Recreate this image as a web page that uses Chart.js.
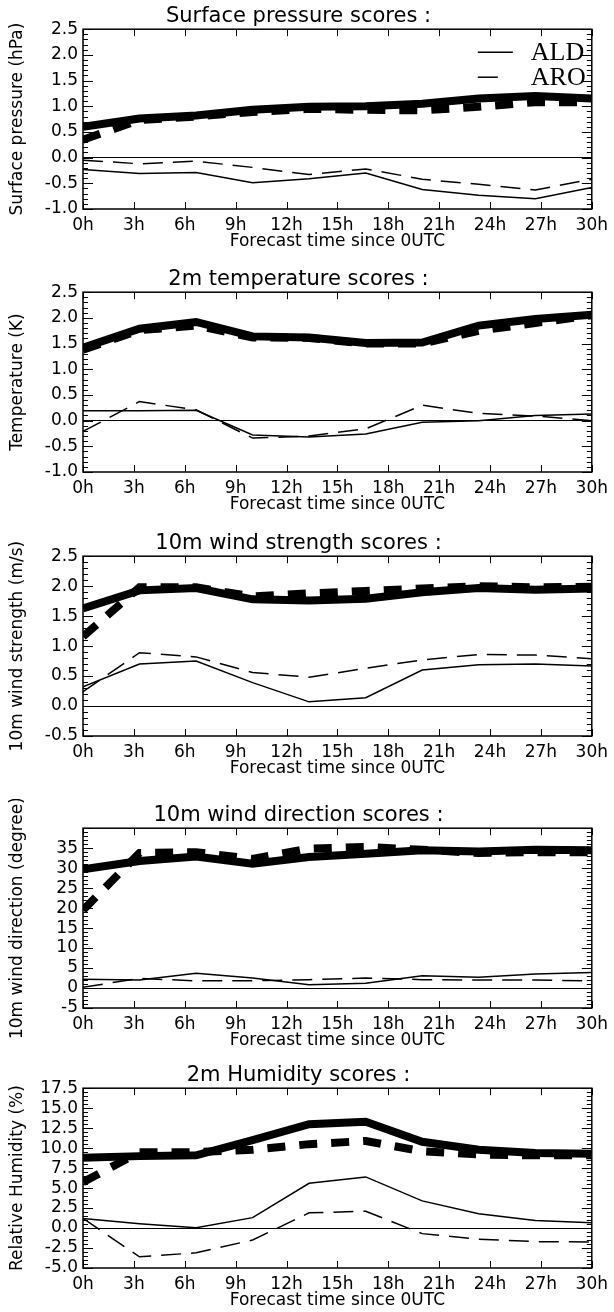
<!DOCTYPE html>
<html>
<head>
<meta charset="utf-8">
<script src="https://cdn.jsdelivr.net/npm/chart.js@4.4.1/dist/chart.umd.min.js"></script>
<style>
  html, body { margin:0; padding:0; background:#fff; overflow:hidden; }
  .panel { position:absolute; left:0; }
</style>
</head>
<body>
<div class="panel" style="top:0px"><canvas id="c0" width="614" height="262"></canvas></div>
<div class="panel" style="top:263px"><canvas id="c1" width="614" height="262"></canvas></div>
<div class="panel" style="top:527px"><canvas id="c2" width="614" height="262"></canvas></div>
<div class="panel" style="top:799px"><canvas id="c3" width="614" height="262"></canvas></div>
<div class="panel" style="top:1059px"><canvas id="c4" width="614" height="262"></canvas></div>
<script>
// forecast hours of each score (every 3h20)
const hours = [0, 3.33, 6.67, 10, 13.33, 16.67, 20, 23.33, 26.67, 30];
const xTickLabels = ['0h','3h','6h','9h','12h','15h','18h','21h','24h','27h','30h'];
const models = ['ALD', 'ARO'];

// surface pressure (hPa)
const pressAldRmse = [0.6, 0.76, 0.82, 0.93, 0.99, 1.0, 1.05, 1.15, 1.2, 1.15];
const pressAroRmse = [0.35, 0.73, 0.8, 0.89, 0.95, 0.93, 0.92, 0.99, 1.08, 1.08];
const pressAldBias = [-0.23, -0.31, -0.29, -0.49, -0.41, -0.3, -0.62, -0.73, -0.8, -0.58];
const pressAroBias = [-0.05, -0.12, -0.07, -0.19, -0.33, -0.22, -0.42, -0.52, -0.63, -0.42];

// 2m temperature (K)
const tempAldRmse = [1.42, 1.79, 1.92, 1.64, 1.62, 1.51, 1.52, 1.85, 1.98, 2.06];
const tempAroRmse = [1.38, 1.76, 1.85, 1.62, 1.61, 1.5, 1.5, 1.75, 1.9, 2.05];
const tempAldBias = [0.19, 0.19, 0.2, -0.28, -0.32, -0.26, -0.03, 0.0, 0.1, 0.13];
const tempAroBias = [-0.21, 0.37, 0.21, -0.34, -0.3, -0.16, 0.3, 0.14, 0.09, 0.0];

// 10m wind strength (m/s)
const windAldRmse = [1.63, 1.93, 1.97, 1.78, 1.76, 1.79, 1.9, 1.97, 1.94, 1.96];
const windAroRmse = [1.16, 1.98, 1.98, 1.83, 1.88, 1.92, 1.96, 2.0, 1.98, 1.99];
const windAldBias = [0.32, 0.7, 0.75, 0.39, 0.07, 0.14, 0.6, 0.69, 0.7, 0.67];
const windAroBias = [0.24, 0.89, 0.82, 0.56, 0.48, 0.63, 0.77, 0.86, 0.85, 0.79];

// 10m wind direction (degree)
const dirAldRmse = [29.7, 31.8, 32.9, 31.1, 32.8, 33.6, 34.5, 34.2, 34.6, 34.5];
const dirAroRmse = [19.5, 33.8, 34.0, 32.3, 34.9, 35.3, 34.6, 33.8, 34.0, 34.0];
const dirAldBias = [2.2, 2.0, 3.7, 2.5, 0.8, 1.2, 3.1, 2.7, 3.5, 3.9];
const dirAroBias = [0.2, 2.4, 1.8, 1.8, 2.1, 2.5, 2.1, 2.0, 2.0, 1.8];

// 2m relative humidity (%)
const humAldRmse = [8.8, 9.0, 9.1, 11.0, 13.0, 13.3, 10.8, 9.8, 9.4, 9.3];
const humAroRmse = [5.75, 9.5, 9.5, 9.8, 10.5, 10.9, 9.6, 9.2, 9.1, 9.1];
const humAldBias = [1.2, 0.55, 0.05, 1.3, 5.6, 6.4, 3.4, 1.8, 0.95, 0.65];
const humAroBias = [1.2, -3.6, -3.1, -1.5, 1.9, 2.1, -0.7, -1.4, -1.7, -1.75];

const panels = [
  { title: 'Surface pressure scores :', yTitle: 'Surface pressure (hPa)', min: -1, max: 2.5, step: 0.5, minor: 0.1, dec: 1,
    series: [pressAldRmse, pressAroRmse, pressAldBias, pressAroBias], legend: true },
  { title: '2m temperature scores :', yTitle: 'Temperature (K)', min: -1, max: 2.5, step: 0.5, minor: 0.1, dec: 1,
    series: [tempAldRmse, tempAroRmse, tempAldBias, tempAroBias] },
  { title: '10m wind strength scores :', yTitle: '10m wind strength (m/s)', min: -0.5, max: 2.5, step: 0.5, minor: 0.1, dec: 1,
    series: [windAldRmse, windAroRmse, windAldBias, windAroBias] },
  { title: '10m wind direction scores :', yTitle: '10m wind direction (degree)', min: -5, max: 40, step: 5, minor: 1, dec: 0, hideMax: true,
    series: [dirAldRmse, dirAroRmse, dirAldBias, dirAroBias] },
  { title: '2m Humidity scores :', yTitle: 'Relative Humidity (%)', min: -5, max: 17.5, step: 2.5, minor: 0.5, dec: 1,
    series: [humAldRmse, humAroRmse, humAldBias, humAroBias] }
];

const FONT = "'DejaVu Sans', sans-serif";

// frame + inward ticks, like the IDL box
const boxTicks = {
  id: 'boxTicks',
  afterDatasetsDraw(chart, args, opts) {
    const { ctx, chartArea: a, scales: { x, y } } = chart;
    ctx.save();
    ctx.strokeStyle = '#000';
    ctx.lineWidth = 1;
    ctx.beginPath();
    x.ticks.forEach(t => {
      const px = Math.round(x.getPixelForValue(t.value)) + 0.5;
      ctx.moveTo(px, a.bottom); ctx.lineTo(px, a.bottom - 7);
      ctx.moveTo(px, a.top); ctx.lineTo(px, a.top + 7);
    });
    const n = Math.round((y.max - y.min) / opts.minor);
    for (let i = 0; i <= n; i++) {
      const v = y.min + i * opts.minor;
      const major = Math.abs(v / opts.step - Math.round(v / opts.step)) < 1e-6;
      const len = major ? 10 : 5;
      const py = Math.round(y.getPixelForValue(v)) + 0.5;
      ctx.moveTo(a.left, py); ctx.lineTo(a.left + len, py);
      ctx.moveTo(a.right, py); ctx.lineTo(a.right - len, py);
    }
    ctx.stroke();
    ctx.lineWidth = 1.5;
    ctx.strokeRect(a.left, a.top, a.right - a.left, a.bottom - a.top);
    ctx.restore();
  }
};

// legend drawn in the top right corner of the first panel
const cornerLegend = {
  id: 'cornerLegend',
  afterDraw(chart, args, opts) {
    if (!opts.show) return;
    const { ctx, chartArea: a } = chart;
    ctx.save();
    ctx.strokeStyle = '#000';
    ctx.fillStyle = '#000';
    ctx.lineWidth = 1.5;
    ctx.font = "26px 'Liberation Serif', serif";
    ctx.textBaseline = 'middle';
    models.forEach((m, i) => {
      const yy = a.top + 23 + i * 25;
      ctx.setLineDash(i === 0 ? [] : [20, 16]);
      ctx.beginPath();
      ctx.moveTo(a.right - 114, yy); ctx.lineTo(a.right - 79, yy);
      ctx.stroke();
      ctx.fillText(m, a.right - 61, yy + 1);
    });
    ctx.restore();
  }
};

panels.forEach((p, k) => {
  const styles = [
    { label: models[0], borderWidth: 8, borderDash: [] },
    { label: models[1], borderWidth: 8, borderDash: [18, 14] },
    { label: models[0] + ' bias', borderWidth: 1.5, borderDash: [] },
    { label: models[1] + ' bias', borderWidth: 1.5, borderDash: [20, 10] }
  ];
  const datasets = p.series.map((vals, i) => ({
    label: styles[i].label,
    data: vals.map((v, j) => ({ x: hours[j], y: v })),
    borderColor: '#000',
    borderWidth: styles[i].borderWidth,
    borderDash: styles[i].borderDash,
    pointRadius: 0,
    tension: 0,
    clip: 0
  }));

  new Chart(document.getElementById('c' + k), {
    type: 'line',
    data: { datasets },
    options: {
      responsive: false,
      animation: false,
      layout: { padding: { left: 0, right: 17, top: 0, bottom: 0 } },
      plugins: {
        legend: { display: false },
        tooltip: { enabled: false },
        title: {
          display: true, text: p.title, color: '#000',
          font: { family: FONT, size: 21, weight: 'normal', lineHeight: 1.2 },
          padding: { top: 4, bottom: 0 }
        },
        boxTicks: { minor: p.minor, step: p.step },
        cornerLegend: { show: !!p.legend }
      },
      scales: {
        x: {
          type: 'linear', min: 0, max: 30,
          afterFit(s) { s.height = 53; },
          ticks: {
            stepSize: 3, color: '#000', padding: 6,
            font: { family: FONT, size: 17 },
            maxRotation: 0, autoSkip: false,
            callback: (v, i) => xTickLabels[i]
          },
          grid: { display: false, drawTicks: false },
          border: { display: false },
          title: {
            display: true, text: 'Forecast time since 0UTC', color: '#000',
            font: { family: FONT, size: 17 }, padding: { top: 0, bottom: 10 }
          }
        },
        y: {
          type: 'linear', min: p.min, max: p.max,
          afterFit(s) { s.width = 83; },
          ticks: {
            stepSize: p.step, color: '#000', padding: 5,
            font: { family: FONT, size: 17 },
            autoSkip: false,
            callback: v => (p.hideMax && v === p.max) ? '' : v.toFixed(p.dec)
          },
          grid: {
            drawTicks: false,
            color: c => c.tick && c.tick.value === 0 ? '#000' : 'rgba(0,0,0,0)',
            lineWidth: 1
          },
          border: { display: false },
          title: {
            display: true, text: p.yTitle, color: '#000',
            font: { family: FONT, size: 17 }, padding: { top: 7, bottom: 0 }
          }
        }
      }
    },
    plugins: [boxTicks, cornerLegend]
  });
});
</script>
</body>
</html>
